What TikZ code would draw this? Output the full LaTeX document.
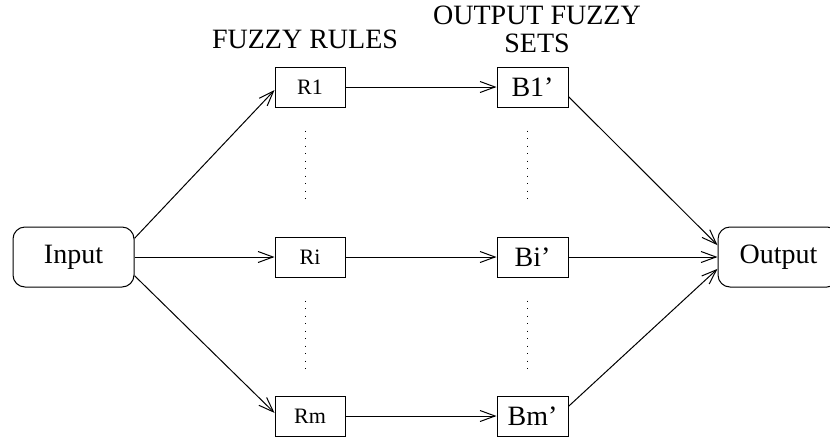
\documentclass[tikz,border=0pt]{standalone}
\usepackage{fontspec}
\setmainfont{Liberation Serif}
\usetikzlibrary{arrows.meta}

\begin{document}
\begin{tikzpicture}[x=1pt, y=-1pt, ->, >={Straight Barb[length=15pt,width=11pt]}, line width=1pt]
        \tikzset{
           ioBox/.style={
                        rectangle,
                        rounded corners=12pt,
                        draw=black,
                        fill=none,
                        text=black,
                        inner sep=0pt,
                        minimum width=121pt,
                        minimum height=60pt,
                        font=\fontsize{28}{28}\selectfont
                       },
           ruleBox/.style={
                        rectangle,
                        draw=black,
                        fill=none,
                        text=black,
                        inner sep=0pt,
                        minimum width=70pt,
                        minimum height=40pt,
                        font=\fontsize{22}{22}\selectfont
                       },
           setBox/.style={
                        rectangle,
                        draw=black,
                        fill=none,
                        text=black,
                        inner sep=0pt,
                        minimum width=71pt,
                        minimum height=40pt,
                        font=\fontsize{28}{28}\selectfont
                       },
           heading/.style={
                        inner sep=0pt,
                        align=center,
                        text=black,
                        font=\fontsize{28}{28}\selectfont
                       },
           dotLine/.style={
                        -,
                        dash pattern=on 1pt off 6.5pt
                       },
                 };
    %--------------------
        \useasboundingbox (0,0) rectangle (830,437);
        \clip (0,0) rectangle (830,437);
    %--------------------
        \node[ioBox]   (input)  at (73.5,257)  {Input};
        \node[ioBox]   (output) at (778.5,257) {Output};

        \node[ruleBox] (r1)     at (310,87)    {R1};
        \node[ruleBox] (ri)     at (310,257)   {Ri};
        \node[ruleBox] (rm)     at (310,416)   {Rm};

        \node[setBox]  (b1)     at (532.5,87)  {B1'};
        \node[setBox]  (bi)     at (532.5,257) {Bi'};
        \node[setBox]  (bm)     at (532.5,416) {Bm'};

        \node[heading, anchor=base]  (rulesTitle) at (305,48) {FUZZY RULES};
        \node[heading, anchor=north] (setsTitle)  at (537,5)  {OUTPUT FUZZY\\SETS};
    %--------------------
        \path (input.17)  edge (r1.185)
              (input)     edge (ri)
              (input.-17) edge (rm.175)

              (r1)        edge (b1)
              (ri)        edge (bi)
              (rm)        edge (bm)

              (b1.-15)    edge (output.169)
              (bi)        edge (output)
              (bm.15)     edge (output.191);
    %--------------------
        \draw[dotLine] ([xshift=-5pt,yshift=-23pt]r1.south) -- ([xshift=-5pt,yshift=37pt]ri.north);
        \draw[dotLine] ([xshift=-5pt,yshift=-23pt]ri.south) -- ([xshift=-5pt,yshift=22pt]rm.north);
        \draw[dotLine] ([xshift=-5.5pt,yshift=-23pt]b1.south) -- ([xshift=-5.5pt,yshift=37pt]bi.north);
        \draw[dotLine] ([xshift=-5.5pt,yshift=-23pt]bi.south) -- ([xshift=-5.5pt,yshift=22pt]bm.north);
    \end{tikzpicture}
\end{document}
